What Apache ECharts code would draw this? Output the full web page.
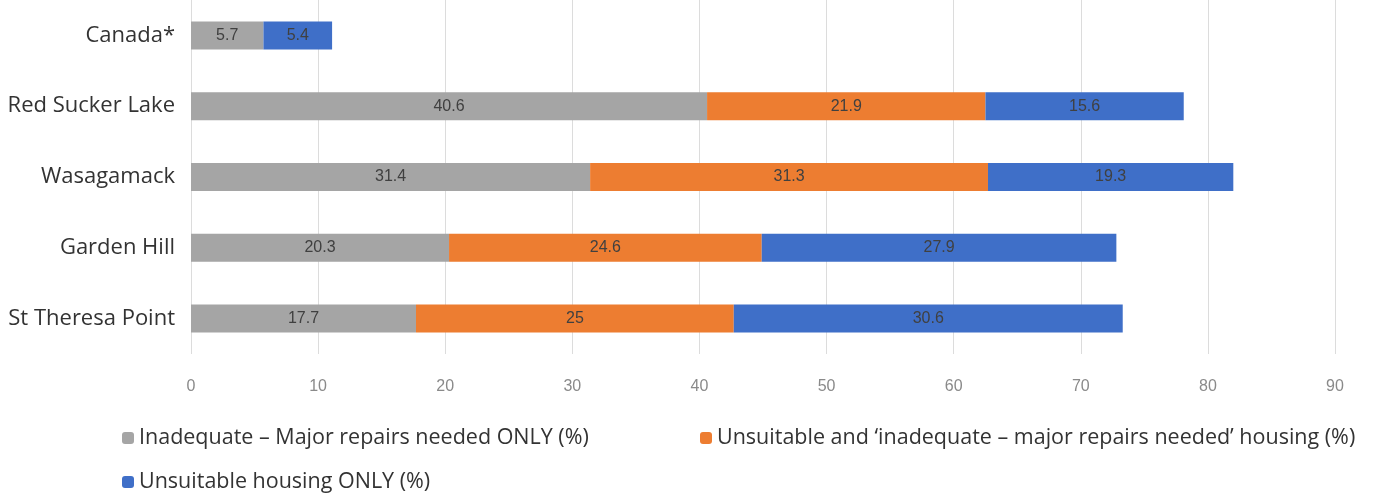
<!DOCTYPE html>
<html><head><meta charset="utf-8">
<script src="https://cdn.jsdelivr.net/npm/echarts@6/dist/echarts.min.js"></script>
<style>html,body{margin:0;padding:0;background:#fff}#c{width:1375px;height:493px}</style>
</head><body><div id="c"></div>
<script>
const categories = ['Canada*', 'Red Sucker Lake', 'Wasagamack', 'Garden Hill', 'St Theresa Point'];
const inadequateOnly = [5.7, 40.6, 31.4, 20.3, 17.7];
const unsuitableAndInadequate = [null, 21.9, 31.3, 24.6, 25];
const unsuitableOnly = [5.4, 15.6, 19.3, 27.9, 30.6];
const seriesNames = [
  'Inadequate – Major repairs needed ONLY (%)',
  'Unsuitable and ‘inadequate – major repairs needed’ housing (%)',
  'Unsuitable housing ONLY (%)'
];
const colors = ['#a5a5a5', '#ed7d31', '#3f6fc8'];
const font = 'Liberation Sans, Arial, sans-serif';
const wide = '"Open Sans", sans-serif';
const chart = echarts.init(document.getElementById('c'));
const mk = (i, data) => ({
  name: seriesNames[i], type: 'bar', stack: 'a', data: data, barWidth: 28,
  itemStyle: {color: colors[i]},
  label: {show: true, position: 'inside', color: '#404040', fontSize: 16, fontFamily: font,
    formatter: p => (p.value == null ? '' : String(p.value))}
});
const legendBase = {icon: 'roundRect', itemWidth: 12, itemHeight: 12, itemGap: 8,
  textStyle: {fontSize: 21.5, color: '#333', fontFamily: wide}};
chart.setOption({
  animation: false,
  color: colors,
  grid: {left: 191, right: 40, top: -4, bottom: 139, containLabel: false},
  xAxis: {type: 'value', min: 0, max: 90, interval: 10,
    axisLine: {show: false}, axisTick: {show: false},
    axisLabel: {color: '#8a8a8a', fontSize: 16, fontFamily: font, margin: 25},
    splitLine: {lineStyle: {color: '#dcdcdc'}}},
  yAxis: {type: 'category', data: categories, inverse: true,
    axisLine: {show: false}, axisTick: {show: false},
    axisLabel: {color: '#333', fontSize: 22, fontFamily: wide, margin: 16}},
  legend: [
    Object.assign({}, legendBase, {data: [seriesNames[0]], left: 117, top: 422}),
    Object.assign({}, legendBase, {data: [seriesNames[1]], left: 695, top: 422}),
    Object.assign({}, legendBase, {data: [seriesNames[2]], left: 117, top: 466})
  ],
  series: [mk(0, inadequateOnly), mk(1, unsuitableAndInadequate), mk(2, unsuitableOnly)]
});
</script></body></html>
